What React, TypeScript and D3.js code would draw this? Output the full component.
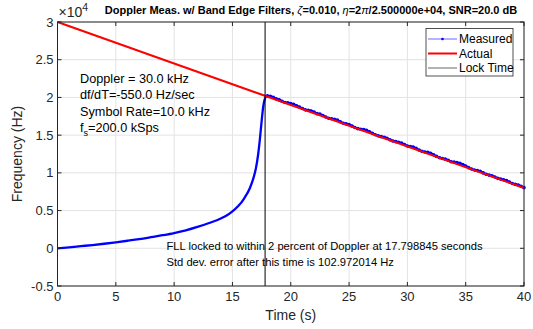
import React from "react";
import * as d3 from "d3";

const xTicks = [0, 5, 10, 15, 20, 25, 30, 35, 40];
const yTicks = [-5000, 0, 5000, 10000, 15000, 20000, 25000, 30000];
const yTickLabels = ["-0.5", "0", "0.5", "1", "1.5", "2", "2.5", "3"];

const actualT = [0, 40];
const actualF = [30000, 8000];
const lockTime = 17.798845;

const measT = [
  0, 1, 2, 3, 4, 5, 6, 7, 8, 9, 10, 11, 12, 13, 14, 14.5, 15, 15.5, 16, 16.5, 16.8, 17.0, 17.2, 17.35, 17.5, 17.65, 17.8, 17.9,
  18.0, 18.25, 18.5, 18.75, 19.0, 19.25, 19.5, 19.75, 20.0, 20.25, 20.5, 20.75, 21.0, 21.25, 21.5, 21.75,
  22.0, 22.25, 22.5, 22.75, 23.0, 23.25, 23.5, 23.75, 24.0, 24.25, 24.5, 24.75, 25.0, 25.25, 25.5, 25.75,
  26.0, 26.25, 26.5, 26.75, 27.0, 27.25, 27.5, 27.75, 28.0, 28.25, 28.5, 28.75, 29.0, 29.25, 29.5, 29.75,
  30.0, 30.25, 30.5, 30.75, 31.0, 31.25, 31.5, 31.75, 32.0, 32.25, 32.5, 32.75, 33.0, 33.25, 33.5, 33.75,
  34.0, 34.25, 34.5, 34.75, 35.0, 35.25, 35.5, 35.75, 36.0, 36.25, 36.5, 36.75, 37.0, 37.25, 37.5, 37.75,
  38.0, 38.25, 38.5, 38.75, 39.0, 39.25, 39.5, 39.75, 40.0,
];
const measF = [
  0, 130, 280, 430, 600, 790, 1000, 1220, 1470, 1730, 2020, 2380, 2830, 3350, 3950, 4350, 4900, 5600, 6600, 8000, 9300, 10500, 12400, 14400, 16800, 18900, 19900, 20150,
  20200, 20140, 20025, 19810, 19700, 19500, 19335, 19280, 19200, 19090, 18905, 18710, 18530, 18350, 18285, 18210,
  18050, 17850, 17785, 17610, 17410, 17240, 17165, 17090, 16990, 16780, 16585, 16490, 16410, 16220, 16015, 15860,
  15780, 15730, 15645, 15450, 15240, 15060, 14905, 14800, 14730, 14570, 14385, 14230, 14140, 14060, 13945, 13750,
  13570, 13500, 13415, 13240, 13030, 12850, 12775, 12710, 12600, 12400, 12185, 12010, 11900, 11820, 11665, 11480,
  11420, 11360, 11265, 11110, 10910, 10690, 10505, 10380, 10300, 10190, 9995, 9810, 9700, 9620, 9455, 9270,
  9170, 9090, 8975, 8780, 8590, 8470, 8395, 8230, 8040,
];

const W = 533;
const H = 329;
const L = 57.5;
const R = 524;
const T = 22;
const B = 286;
const FONT = "'Liberation Sans', Arial, Helvetica, sans-serif";

export default function App() {
  const x = d3.scaleLinear().domain([0, 40]).range([L, R]);
  const y = d3.scaleLinear().domain([-5000, 30000]).range([B, T]);

  const measPts: [number, number][] = measT.map((t, i) => [t, measF[i]]);
  const actPts: [number, number][] = actualT.map((t, i) => [t, actualF[i]]);
  const line = d3
    .line<[number, number]>()
    .x((d) => x(d[0]))
    .y((d) => y(d[1]))
    .curve(d3.curveMonotoneX);
  const lineStraight = d3
    .line<[number, number]>()
    .x((d) => x(d[0]))
    .y((d) => y(d[1]));

  const axisColor = "#262626";
  const gridColor = "#e3e3e3";

  return (
    <svg
      width={W}
      height={H}
      style={{ position: "absolute", left: 0, top: 0, background: "#fff" }}
      fontFamily={FONT}
    >
      <rect x={0} y={0} width={W} height={H} fill="#fff" />
      {/* grid */}
      {xTicks.map((t) => (
        <line key={"gx" + t} x1={x(t)} x2={x(t)} y1={T} y2={B} stroke={gridColor} strokeWidth={1} />
      ))}
      {yTicks.map((v) => (
        <line key={"gy" + v} x1={L} x2={R} y1={y(v)} y2={y(v)} stroke={gridColor} strokeWidth={1} />
      ))}

      {/* measured */}
      <path d={line(measPts) || ""} fill="none" stroke="#0000ff" strokeWidth={2.3} />
      {measPts
        .filter((d) => d[0] >= 18)
        .map((d, i) => (
          <circle key={"m" + i} cx={x(d[0])} cy={y(d[1])} r={1.8} fill="#0000ff" />
        ))}
      {/* actual */}
      <path d={lineStraight(actPts) || ""} fill="none" stroke="#ff0000" strokeWidth={2} />
      {/* lock time */}
      <line x1={x(lockTime)} x2={x(lockTime)} y1={y(-5000)} y2={y(30000)} stroke="#000" strokeWidth={1} />

      {/* axes box */}
      <rect x={L} y={T} width={R - L} height={B - T} fill="none" stroke={axisColor} strokeWidth={1} />
      {xTicks.map((t) => (
        <g key={"tx" + t}>
          <line x1={x(t)} x2={x(t)} y1={B} y2={B - 4} stroke={axisColor} />
          <line x1={x(t)} x2={x(t)} y1={T} y2={T + 4} stroke={axisColor} />
          <text x={x(t)} y={B + 15} textAnchor="middle" fontSize={13} fill={axisColor}>
            {t}
          </text>
        </g>
      ))}
      {yTicks.map((v, i) => (
        <g key={"ty" + v}>
          <line x1={L} x2={L + 4} y1={y(v)} y2={y(v)} stroke={axisColor} />
          <line x1={R} x2={R - 4} y1={y(v)} y2={y(v)} stroke={axisColor} />
          <text x={L - 4} y={y(v) + 4.5} textAnchor="end" fontSize={13} fill={axisColor}>
            {yTickLabels[i]}
          </text>
        </g>
      ))}

      {/* exponent */}
      <text x={L + 1} y={T - 5} fontSize={14} fill={axisColor}>
        ×10
        <tspan dy={-6} fontSize={10.5}>4</tspan>
      </text>

      {/* title */}
      <text x={311} y={14} textAnchor="middle" fontSize={11} fontWeight="bold" fill="#000">
        Doppler Meas. w/ Band Edge Filters, <tspan fontStyle="italic" fontWeight="normal">ζ</tspan>=0.010,{" "}
        <tspan fontStyle="italic" fontWeight="normal">η</tspan>=2<tspan fontStyle="italic" fontWeight="normal">π</tspan>
        /2.500000e+04, SNR=20.0 dB
      </text>

      {/* axis labels */}
      <text x={(L + R) / 2} y={320} textAnchor="middle" fontSize={14} fill={axisColor}>
        Time (s)
      </text>
      <text
        transform={`translate(22, ${(T + B) / 2}) rotate(-90)`}
        textAnchor="middle"
        fontSize={14}
        fill={axisColor}
      >
        Frequency (Hz)
      </text>

      {/* parameter annotation */}
      <g fontSize={12.7} fill="#000">
        <text x={80} y={82.5}>Doppler = 30.0 kHz</text>
        <text x={80} y={99}>df/dT=-550.0 Hz/sec</text>
        <text x={80} y={115.5}>Symbol Rate=10.0 kHz</text>
        <text x={80} y={132}>
          f<tspan dy={4} fontSize={9}>s</tspan>
          <tspan dy={-4}>=200.0 kSps</tspan>
        </text>
      </g>

      {/* lock annotation */}
      <g fontSize={11.2} fill="#000">
        <text x={166.5} y={249.5}>FLL locked to within 2 percent of Doppler at 17.798845 seconds</text>
        <text x={166.5} y={265.5}>Std dev. error after this time is 102.972014 Hz</text>
      </g>

      {/* legend */}
      <g>
        <rect x={426} y={28.5} width={87} height={47.5} fill="#fff" stroke={axisColor} strokeWidth={0.8} />
        <line x1={428} x2={457} y1={39} y2={39} stroke="#0000ff" strokeWidth={0.6} />
        <circle cx={442.5} cy={39} r={1.3} fill="#0000ff" />
        <text x={459} y={43} fontSize={12} fill="#000">Measured</text>
        <line x1={428} x2={457} y1={53.5} y2={53.5} stroke="#ff0000" strokeWidth={2} />
        <text x={459} y={57.5} fontSize={12} fill="#000">Actual</text>
        <line x1={428} x2={457} y1={68} y2={68} stroke="#000" strokeWidth={0.6} />
        <text x={459} y={72} fontSize={12} fill="#000">Lock Time</text>
      </g>
    </svg>
  );
}
